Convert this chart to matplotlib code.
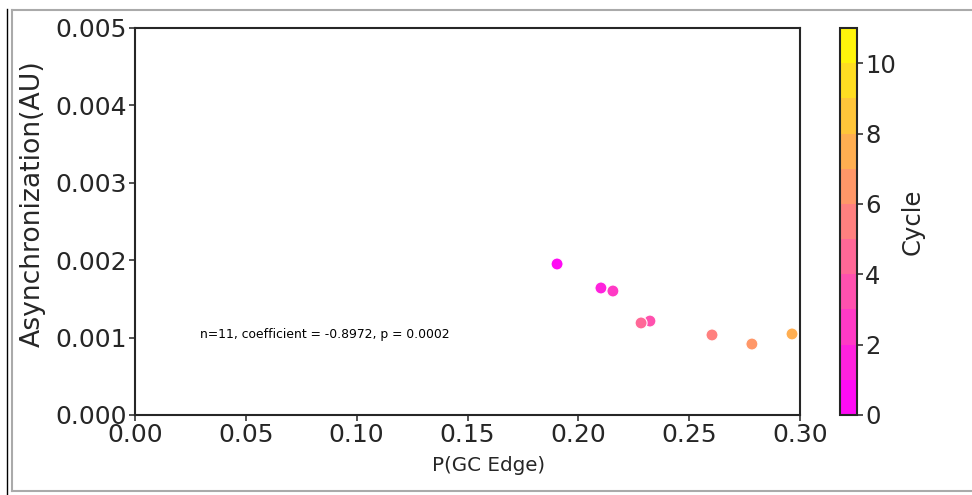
import numpy as np
import matplotlib
matplotlib.use("Agg")
import matplotlib.pyplot as plt
from matplotlib.lines import Line2D
from matplotlib.colors import Normalize, ListedColormap

# data
p_gc_edge = [0.1904, 0.2102, 0.2156, 0.2323, 0.2283, 0.2603, 0.2783, 0.2964, 0.3120, 0.3250, 0.3400]
asynchronization = [0.001951, 0.001641, 0.001602, 0.001214, 0.001189, 0.001034, 0.000917, 0.001047, 0.000950, 0.000880, 0.000900]
cycle = [0, 1, 2, 3, 4, 5, 6, 7, 8, 9, 10]
annotation = "n=11, coefficient = -0.8972, p = 0.0002"
xticks = [0.00, 0.05, 0.10, 0.15, 0.20, 0.25, 0.30]
yticks = [0.000, 0.001, 0.002, 0.003, 0.004, 0.005]
cbar_ticks = [0, 2, 4, 6, 8, 10]
n_levels = 11

W, H = 972, 495
fig = plt.figure(figsize=(W / 100, H / 100), dpi=100)
ax = fig.add_axes([135 / W, 1 - 415 / H, 665 / W, 387 / H])
cax = fig.add_axes([840 / W, 1 - 415 / H, 17 / W, 387 / H])

spring = matplotlib.colormaps['spring']
cmap = ListedColormap(spring((np.arange(n_levels) + 0.5) / n_levels))
norm = Normalize(vmin=0, vmax=n_levels)
sc = ax.scatter(p_gc_edge, asynchronization, c=cycle, cmap=cmap, norm=norm,
                s=75, edgecolors='white', linewidths=0.8, zorder=3)

ax.set_xlim(0, 0.30)
ax.set_ylim(0, 0.005)
ax.set_xticks(xticks)
ax.set_xticklabels([f"{v:.2f}" for v in xticks])
ax.set_yticks(yticks)
ax.set_yticklabels([f"{v:.3f}" for v in yticks])
ax.tick_params(labelsize=18, length=4, width=1.2, color='#333333', labelcolor='#262626', pad=2)
for s in ax.spines.values():
    s.set_linewidth(1.5)
    s.set_color('#262626')
ax.set_xlabel("P(GC Edge)", fontsize=14.3, color='#262626')
ax.xaxis.set_label_coords(0.531, -0.106)
ax.set_ylabel("Asynchronization(AU)", fontsize=19.2, color='#262626')
ax.yaxis.set_label_coords(-0.1335, 0.545)
ax.text(0.0295, 0.00104, annotation, fontsize=8.9, va='center', ha='left', color='black')

cb = fig.colorbar(sc, cax=cax)
cb.set_ticks(cbar_ticks)
cb.ax.tick_params(labelsize=17.5, length=4, width=1.2, color='#333333', labelcolor='#262626', pad=2)
cb.outline.set_linewidth(1.5)
cb.outline.set_edgecolor('#262626')
cb.set_label("Cycle", fontsize=17.5, color='#262626', labelpad=3)

# screenshot frame
def px(x, y):
    return x / W, 1 - y / H
fig.add_artist(Line2D(*zip(px(7, 9), px(7, 495)), color='black', lw=1.0))
fig.add_artist(Line2D(*zip(px(12, 10), px(972, 10)), color='#aaaaaa', lw=1.5))
fig.add_artist(Line2D(*zip(px(12, 10), px(12, 491)), color='#aaaaaa', lw=1.5))
fig.add_artist(Line2D(*zip(px(12, 491), px(972, 491)), color='#aaaaaa', lw=1.5))

fig.savefig("out.png", dpi=100, facecolor='white')
